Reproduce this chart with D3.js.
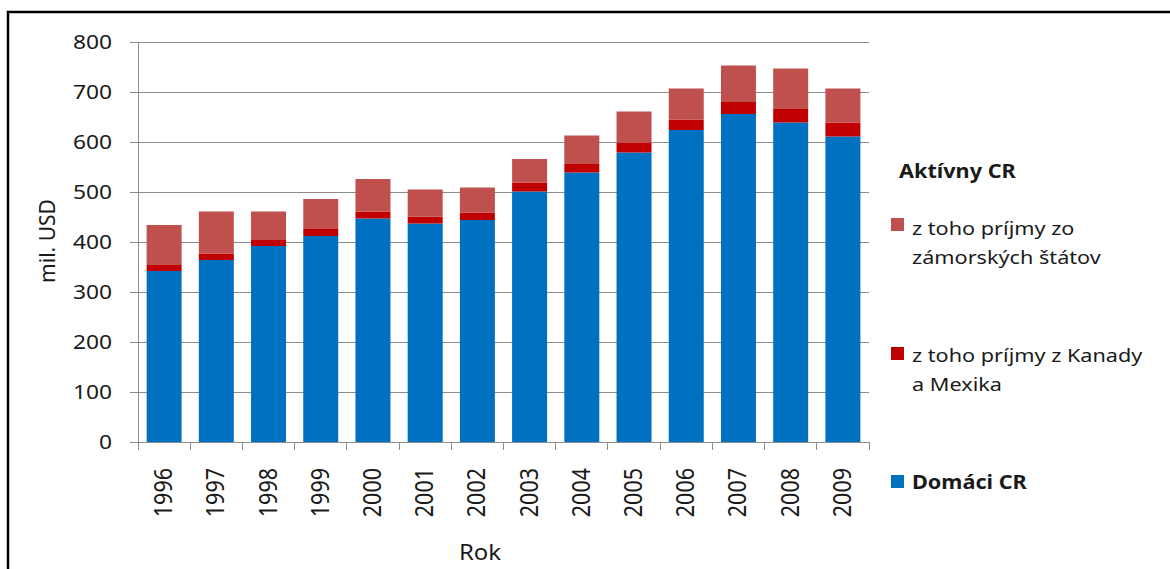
<!DOCTYPE html>
<html>
<head>
<meta charset="utf-8">
<script src="https://cdn.jsdelivr.net/npm/d3@7"></script>
<style>
  html, body { margin: 0; padding: 0; background: #ffffff; }
  svg { display: block; }
  text { font-family: "Noto Sans", "Open Sans", sans-serif; fill: #1a1a1a; }
</style>
</head>
<body>
<script>
// Revenue of the active cruise segment (mil. USD), by year
const years = ["1996","1997","1998","1999","2000","2001","2002","2003","2004","2005","2006","2007","2008","2009"];
const domestic = [342, 364, 392, 412, 447, 437, 444, 501, 539, 579, 624, 656, 639, 611];
const canadaMexico = [12, 13, 12, 14, 14, 14, 15, 18, 17, 19, 21, 24, 27, 28];
const overseas = [80, 84, 57, 60, 65, 54, 50, 47, 57, 63, 62, 73, 81, 68];
const yTicks = [0, 100, 200, 300, 400, 500, 600, 700, 800];

const seriesKeys = ["domestic", "canadaMexico", "overseas"];
const colors = { domestic: "#0070C0", canadaMexico: "#C00000", overseas: "#C0504D" };

const W = 1170, H = 569;
const STRETCH = 1.14;   // slightly widened lettering
const svg = d3.select("body").append("svg").attr("width", W).attr("height", H);

// page frame
svg.append("path")
  .attr("d", `M8,${H + 5} L8,12 L${W + 5},12`)
  .attr("fill", "none").attr("stroke", "#000").attr("stroke-width", 2.5);

const plot = { left: 138, right: 869, top: 42, bottom: 442 };

const x = d3.scaleBand().domain(years).range([plot.left, plot.right]).paddingInner(0.33).paddingOuter(0.165);
const xEdge = d3.scaleBand().domain(years).range([plot.left, plot.right]);
const y = d3.scaleLinear().domain([0, 800]).range([plot.bottom, plot.top]);

// gridlines
svg.append("g").selectAll("line").data(yTicks.filter(v => v > 0)).join("line")
  .attr("x1", plot.left).attr("x2", plot.right)
  .attr("y1", d => y(d)).attr("y2", d => y(d))
  .attr("stroke", "#8c8c8c").attr("stroke-width", 1).attr("shape-rendering", "crispEdges");

// stacked bars
const table = years.map((yr, i) => ({
  year: yr, domestic: domestic[i], canadaMexico: canadaMexico[i], overseas: overseas[i]
}));
const stacked = d3.stack().keys(seriesKeys)(table);

svg.append("g").selectAll("g").data(stacked).join("g")
  .attr("fill", d => colors[d.key])
  .selectAll("rect").data(d => d).join("rect")
  .attr("x", d => x(d.data.year))
  .attr("width", x.bandwidth())
  .attr("y", d => y(d[1]))
  .attr("height", d => y(d[0]) - y(d[1]));

// y axis
const yAxis = svg.append("g").attr("transform", `translate(${plot.left},0)`)
  .call(d3.axisLeft(y).tickValues(yTicks).tickSize(8).tickPadding(18));
yAxis.select(".domain").attr("stroke", "#8c8c8c");
yAxis.selectAll(".tick line").attr("stroke", "#8c8c8c");
yAxis.selectAll(".tick text").attr("font-size", 20).attr("fill", "#1a1a1a")
  .style("font-family", "'Noto Sans', sans-serif")
  .attr("x", -26 / STRETCH)
  .attr("transform", `scale(${STRETCH},1)`);

// x axis with ticks at category boundaries
const xAxisG = svg.append("g").attr("transform", `translate(0,${plot.bottom})`);
xAxisG.append("line").attr("x1", plot.left).attr("x2", plot.right)
  .attr("stroke", "#8c8c8c").attr("shape-rendering", "crispEdges");
const edges = years.map(yr => xEdge(yr)).concat([plot.right]);
xAxisG.selectAll("line.tk").data(edges).join("line").attr("class", "tk")
  .attr("x1", d => d).attr("x2", d => d).attr("y1", 0).attr("y2", 8)
  .attr("stroke", "#8c8c8c").attr("shape-rendering", "crispEdges");
xAxisG.selectAll("text").data(years).join("text")
  .attr("transform", d => `translate(${x(d) + x.bandwidth() / 2 + 8},${26}) rotate(-90) scale(1,${STRETCH})`)
  .attr("text-anchor", "end")
  .attr("font-size", 21.5)
  .text(d => d);

// axis titles
svg.append("text").attr("transform", `translate(480,560) scale(${STRETCH},1)`)
  .attr("text-anchor", "middle").attr("font-size", 21).text("Rok");
svg.append("text").attr("transform", "translate(55,241) rotate(-90)")
  .attr("text-anchor", "middle").attr("font-size", 21).text("mil. USD");

// legend
const lg = svg.append("g");
lg.append("text").attr("transform", `translate(899,178) scale(${STRETCH},1)`)
  .attr("font-size", 19).attr("font-weight", "bold").text("Aktívny CR");

const legendItems = [
  { key: "overseas", lines: ["z toho príjmy zo", "zámorských štátov"], sq: 218, base: 235, bold: false },
  { key: "canadaMexico", lines: ["z toho príjmy z Kanady", "a Mexika"], sq: 347, base: 362, bold: false },
  { key: "domestic", lines: ["Domáci CR"], sq: 475, base: 489, bold: true }
];
legendItems.forEach(it => {
  lg.append("rect").attr("x", 891).attr("y", it.sq).attr("width", 13).attr("height", 13)
    .attr("fill", colors[it.key]);
  const t = lg.append("text")
    .attr("transform", `translate(912,${it.base}) scale(${STRETCH},1)`)
    .attr("font-size", 19)
    .attr("font-weight", it.bold ? "bold" : "normal");
  it.lines.forEach((ln, j) => {
    t.append("tspan").attr("x", 0).attr("dy", j === 0 ? 0 : 29).text(ln);
  });
});
</script>
</body>
</html>
